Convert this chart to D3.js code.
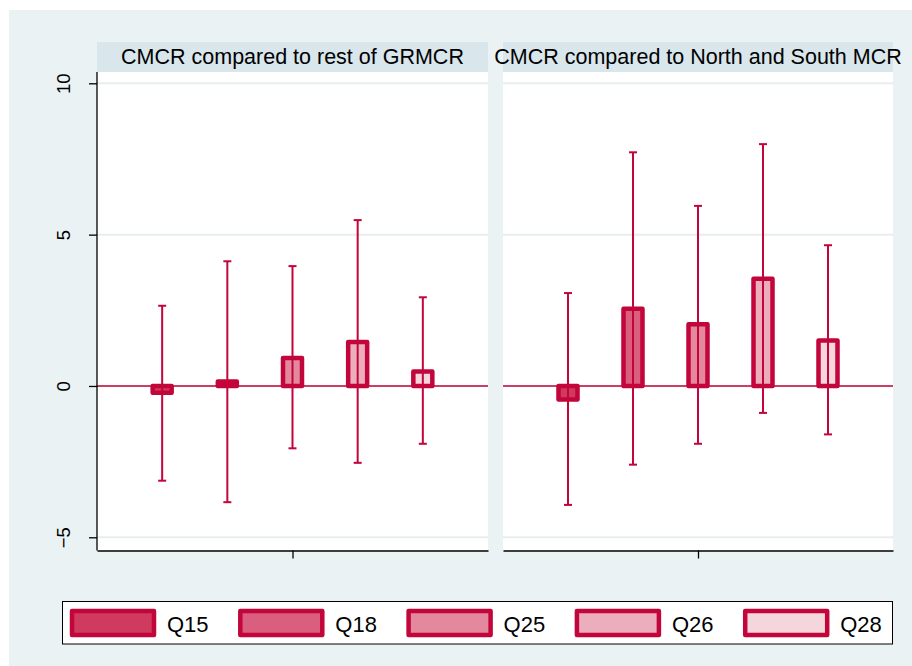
<!DOCTYPE html>
<html>
<head>
<meta charset="utf-8">
<script src="https://cdn.jsdelivr.net/npm/d3@7"></script>
<style>
  html, body { margin: 0; padding: 0; background: #ffffff; }
  svg { display: block; font-family: "Liberation Sans", Arial, Helvetica, sans-serif; }
</style>
</head>
<body>
<svg id="chart" width="912" height="666"></svg>
<script>
// Question labels (bar categories)
const categories = ["Q15", "Q18", "Q25", "Q26", "Q28"];

// Panel headings
const panelTitles = [
  "CMCR compared to rest of GRMCR",
  "CMCR compared to North and South MCR"
];

// Point estimates and confidence limits, one array per panel
const estRest   = [-0.22, 0.15, 0.92, 1.45, 0.48];
const lowRest   = [-3.13, -3.84, -2.06, -2.54, -1.91];
const highRest  = [2.65, 4.12, 3.96, 5.48, 2.93];

const estNS     = [-0.45, 2.55, 2.04, 3.54, 1.50];
const lowNS     = [-3.93, -2.60, -1.91, -0.89, -1.60];
const highNS    = [3.07, 7.72, 5.95, 7.99, 4.65];

// Y-axis ticks
const yTicks = [-5, 0, 5, 10];

const panelData = [
  { title: panelTitles[0], est: estRest, low: lowRest, high: highRest },
  { title: panelTitles[1], est: estNS,   low: lowNS,   high: highNS }
];

// Styling
const RED = "#C2053A";
const fills = ["#CF3A5E", "#DA5E7D", "#E3889D", "#ECAEBD", "#F5D6DD"];
const BG = "#EAF2F3";
const STRIP = "#D9E6EB";
const GRID = "#E8EEEE";

const svg = d3.select("#chart");

// Outer graph region
svg.append("rect")
  .attr("x", 9).attr("y", 10)
  .attr("width", 903).attr("height", 656)
  .attr("fill", BG);

// Layout of the two panels
const panels = [
  { x0: 97, x1: 488 },
  { x0: 503, x1: 893 }
];
const plotTop = 72, plotBottom = 550.5, stripTop = 42;

const y = d3.scaleLinear().domain([-5, 10]).range([537.3, 83.3]);

panels.forEach((p, pi) => {
  const d = panelData[pi];
  const x = d3.scaleLinear().domain([0, categories.length + 1]).range([p.x0, p.x1]);
  const g = svg.append("g");

  // plot area
  g.append("rect")
    .attr("x", p.x0).attr("y", plotTop)
    .attr("width", p.x1 - p.x0).attr("height", plotBottom - plotTop)
    .attr("fill", "#ffffff");

  // title strip
  g.append("rect")
    .attr("x", p.x0).attr("y", stripTop)
    .attr("width", p.x1 - p.x0).attr("height", plotTop - stripTop)
    .attr("fill", STRIP);
  g.append("text")
    .attr("x", (p.x0 + p.x1) / 2).attr("y", 63.5)
    .attr("text-anchor", "middle")
    .attr("font-size", 21.5)
    .attr("fill", "#000")
    .text(d.title);

  // horizontal grid
  g.selectAll("line.grid").data(yTicks).join("line")
    .attr("class", "grid")
    .attr("x1", p.x0).attr("x2", p.x1)
    .attr("y1", v => y(v)).attr("y2", v => y(v))
    .attr("stroke", GRID).attr("stroke-width", 2);

  // reference line at zero
  g.append("line")
    .attr("x1", p.x0).attr("x2", p.x1)
    .attr("y1", y(0)).attr("y2", y(0))
    .attr("stroke", RED).attr("stroke-width", 1.5);

  // bars from zero to estimate
  const barW = 19;
  g.selectAll("rect.bar").data(categories).join("rect")
    .attr("class", "bar")
    .attr("x", (c, i) => x(i + 1) - barW / 2)
    .attr("y", (c, i) => Math.min(y(0), y(d.est[i])))
    .attr("width", barW)
    .attr("height", (c, i) => Math.abs(y(0) - y(d.est[i])))
    .attr("fill", (c, i) => fills[i])
    .attr("stroke", RED)
    .attr("stroke-width", 4.5)
    .attr("stroke-linejoin", "round");

  // confidence intervals with caps
  const capW = 8;
  const ci = g.selectAll("g.ci").data(categories).join("g").attr("class", "ci");
  ci.append("line")
    .attr("x1", (c, i) => x(i + 1)).attr("x2", (c, i) => x(i + 1))
    .attr("y1", (c, i) => y(d.low[i])).attr("y2", (c, i) => y(d.high[i]))
    .attr("stroke", RED).attr("stroke-width", 2);
  ci.append("line")
    .attr("x1", (c, i) => x(i + 1) - capW / 2).attr("x2", (c, i) => x(i + 1) + capW / 2)
    .attr("y1", (c, i) => y(d.high[i])).attr("y2", (c, i) => y(d.high[i]))
    .attr("stroke", RED).attr("stroke-width", 2);
  ci.append("line")
    .attr("x1", (c, i) => x(i + 1) - capW / 2).attr("x2", (c, i) => x(i + 1) + capW / 2)
    .attr("y1", (c, i) => y(d.low[i])).attr("y2", (c, i) => y(d.low[i]))
    .attr("stroke", RED).attr("stroke-width", 2);

  // x axis: single central tick, no labels
  const xAxis = d3.axisBottom(x).tickValues([(categories.length + 1) / 2])
    .tickSize(8).tickSizeOuter(0).tickFormat("");
  const xa = g.append("g").attr("transform", `translate(0,${plotBottom})`).call(xAxis);
  xa.select(".domain").attr("stroke", "#000").attr("stroke-width", 1.3);
  xa.selectAll(".tick line").attr("stroke", "#000").attr("stroke-width", 1.3);

  // y axis on the first panel only
  if (pi === 0) {
    const yAxis = d3.axisLeft(y).tickValues(yTicks).tickSize(8).tickSizeOuter(0);
    const ya = g.append("g").attr("transform", `translate(${p.x0},0)`).call(yAxis);
    ya.select(".domain")
      .attr("d", `M0,${plotTop}V${plotBottom}`)
      .attr("stroke", "#000").attr("stroke-width", 1.3);
    ya.selectAll(".tick line").attr("stroke", "#000").attr("stroke-width", 1.3);
    ya.selectAll(".tick text")
      .attr("x", 0).attr("dy", null).attr("y", 0)
      .attr("transform", "translate(-27,0) rotate(-90)")
      .attr("text-anchor", "middle")
      .attr("font-size", 18.5)
      .attr("font-family", "Liberation Sans, Arial, sans-serif")
      .attr("fill", "#000");
  }
});

// Legend
const legend = svg.append("g");
legend.append("rect")
  .attr("x", 62.5).attr("y", 601.5)
  .attr("width", 830).attr("height", 42.5)
  .attr("fill", "#fff").attr("stroke", "#000").attr("stroke-width", 1);

const item = legend.selectAll("g.item").data(categories).join("g")
  .attr("class", "item")
  .attr("transform", (c, i) => `translate(${70 + i * 168.3},0)`);
item.append("rect")
  .attr("x", 2).attr("y", 611)
  .attr("width", 82).attr("height", 24)
  .attr("fill", (c, i) => fills[i])
  .attr("stroke", RED).attr("stroke-width", 4.5)
  .attr("stroke-linejoin", "round");
item.append("text")
  .attr("x", 97).attr("y", 632)
  .attr("font-size", 22)
  .attr("fill", "#000")
  .text(c => c);
</script>
</body>
</html>
